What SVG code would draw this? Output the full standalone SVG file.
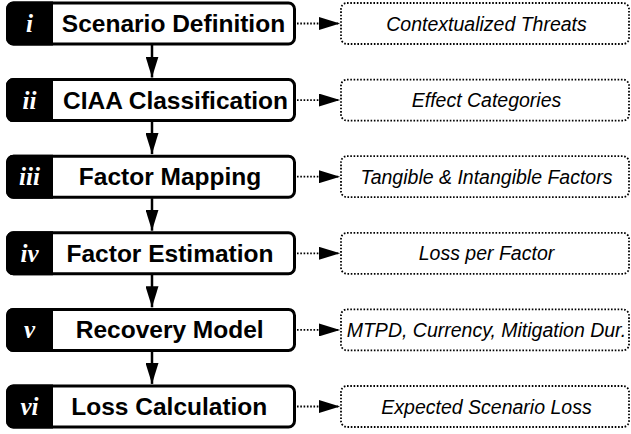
<svg xmlns="http://www.w3.org/2000/svg" width="631" height="434" viewBox="0 0 631 434">
<style>
.box{fill:#fff;stroke:#000;stroke-width:3}
.tab{fill:#000}
.num{font-family:"Liberation Serif","DejaVu Serif",serif;font-weight:bold;font-style:italic;font-size:25px;fill:#fff;text-anchor:middle}
.lbl{font-family:"Liberation Sans",Arial,sans-serif;font-weight:bold;font-size:24.5px;fill:#000;text-anchor:middle}
.out{fill:#fff;stroke:#000;stroke-width:1.8;stroke-dasharray:1.6 1.7}
.otxt{font-family:"Liberation Sans",Arial,sans-serif;font-style:italic;font-size:19.5px;fill:#000;text-anchor:middle}
.vline{stroke:#000;stroke-width:2.5;fill:none}
.hline{stroke:#000;stroke-width:1.8;stroke-dasharray:1.6 1.7;fill:none}
</style>
<defs>
<marker id="ah" markerUnits="userSpaceOnUse" markerWidth="21" markerHeight="13" refX="21" refY="6.5" orient="auto">
<path d="M0,0 L21,6.5 L0,13 z" fill="#000"/>
</marker>
</defs>
<g id="connectors">
<line class="vline" x1="152" y1="45" x2="152" y2="77.5" marker-end="url(#ah)"/>
<line class="vline" x1="152" y1="121.6" x2="152" y2="154.1" marker-end="url(#ah)"/>
<line class="vline" x1="152" y1="198.2" x2="152" y2="230.7" marker-end="url(#ah)"/>
<line class="vline" x1="152" y1="274.8" x2="152" y2="307.3" marker-end="url(#ah)"/>
<line class="vline" x1="152" y1="351.4" x2="152" y2="383.9" marker-end="url(#ah)"/>
<line class="hline" x1="297" y1="23.5" x2="340" y2="23.5" marker-end="url(#ah)"/>
<line class="hline" x1="297" y1="100.1" x2="340" y2="100.1" marker-end="url(#ah)"/>
<line class="hline" x1="297" y1="176.7" x2="340" y2="176.7" marker-end="url(#ah)"/>
<line class="hline" x1="297" y1="253.3" x2="340" y2="253.3" marker-end="url(#ah)"/>
<line class="hline" x1="297" y1="329.9" x2="340" y2="329.9" marker-end="url(#ah)"/>
<line class="hline" x1="297" y1="406.5" x2="340" y2="406.5" marker-end="url(#ah)"/>
</g>
<g id="step1" transform="translate(0,23.5)">
<rect class="box" x="7.5" y="-20.5" width="287" height="41" rx="6"/>
<path class="tab" d="M13.5,-22 H53 V22 H13.5 A7.5,7.5 0 0 1 6,14.5 V-14.5 A7.5,7.5 0 0 1 13.5,-22 z"/>
<text class="num" x="29.5" y="8.5">i</text>
<text class="lbl" x="173.5" y="8.5">Scenario Definition</text>
</g>
<g id="step2" transform="translate(0,100.1)">
<rect class="box" x="7.5" y="-20.5" width="287" height="41" rx="6"/>
<path class="tab" d="M13.5,-22 H53 V22 H13.5 A7.5,7.5 0 0 1 6,14.5 V-14.5 A7.5,7.5 0 0 1 13.5,-22 z"/>
<text class="num" x="29.5" y="8.5">ii</text>
<text class="lbl" x="175.5" y="8.5">CIAA Classification</text>
</g>
<g id="step3" transform="translate(0,176.7)">
<rect class="box" x="7.5" y="-20.5" width="287" height="41" rx="6"/>
<path class="tab" d="M13.5,-22 H53 V22 H13.5 A7.5,7.5 0 0 1 6,14.5 V-14.5 A7.5,7.5 0 0 1 13.5,-22 z"/>
<text class="num" x="29.5" y="8.5">iii</text>
<text class="lbl" x="170" y="8.5">Factor Mapping</text>
</g>
<g id="step4" transform="translate(0,253.3)">
<rect class="box" x="7.5" y="-20.5" width="287" height="41" rx="6"/>
<path class="tab" d="M13.5,-22 H53 V22 H13.5 A7.5,7.5 0 0 1 6,14.5 V-14.5 A7.5,7.5 0 0 1 13.5,-22 z"/>
<text class="num" x="29.5" y="8.5">iv</text>
<text class="lbl" x="170" y="8.5">Factor Estimation</text>
</g>
<g id="step5" transform="translate(0,329.9)">
<rect class="box" x="7.5" y="-20.5" width="287" height="41" rx="6"/>
<path class="tab" d="M13.5,-22 H53 V22 H13.5 A7.5,7.5 0 0 1 6,14.5 V-14.5 A7.5,7.5 0 0 1 13.5,-22 z"/>
<text class="num" x="29.5" y="8.5">v</text>
<text class="lbl" x="169.7" y="8.5">Recovery Model</text>
</g>
<g id="step6" transform="translate(0,406.5)">
<rect class="box" x="7.5" y="-20.5" width="287" height="41" rx="6"/>
<path class="tab" d="M13.5,-22 H53 V22 H13.5 A7.5,7.5 0 0 1 6,14.5 V-14.5 A7.5,7.5 0 0 1 13.5,-22 z"/>
<text class="num" x="29.5" y="8.5">vi</text>
<text class="lbl" x="169.3" y="8.5">Loss Calculation</text>
</g>
<g id="out1" transform="translate(0,23.5)">
<rect class="out" x="341" y="-20.5" width="288" height="41" rx="6"/>
<text class="otxt" x="486.5" y="7">Contextualized Threats</text>
</g>
<g id="out2" transform="translate(0,100.1)">
<rect class="out" x="341" y="-20.5" width="288" height="41" rx="6"/>
<text class="otxt" x="486.5" y="7">Effect Categories</text>
</g>
<g id="out3" transform="translate(0,176.7)">
<rect class="out" x="341" y="-20.5" width="288" height="41" rx="6"/>
<text class="otxt" x="486.5" y="7">Tangible &amp; Intangible Factors</text>
</g>
<g id="out4" transform="translate(0,253.3)">
<rect class="out" x="341" y="-20.5" width="288" height="41" rx="6"/>
<text class="otxt" x="486.5" y="7">Loss per Factor</text>
</g>
<g id="out5" transform="translate(0,329.9)">
<rect class="out" x="341" y="-20.5" width="288" height="41" rx="6"/>
<text class="otxt" x="486.5" y="7">MTPD, Currency, Mitigation Dur.</text>
</g>
<g id="out6" transform="translate(0,406.5)">
<rect class="out" x="341" y="-20.5" width="288" height="41" rx="6"/>
<text class="otxt" x="486.5" y="7">Expected Scenario Loss</text>
</g>
</svg>
